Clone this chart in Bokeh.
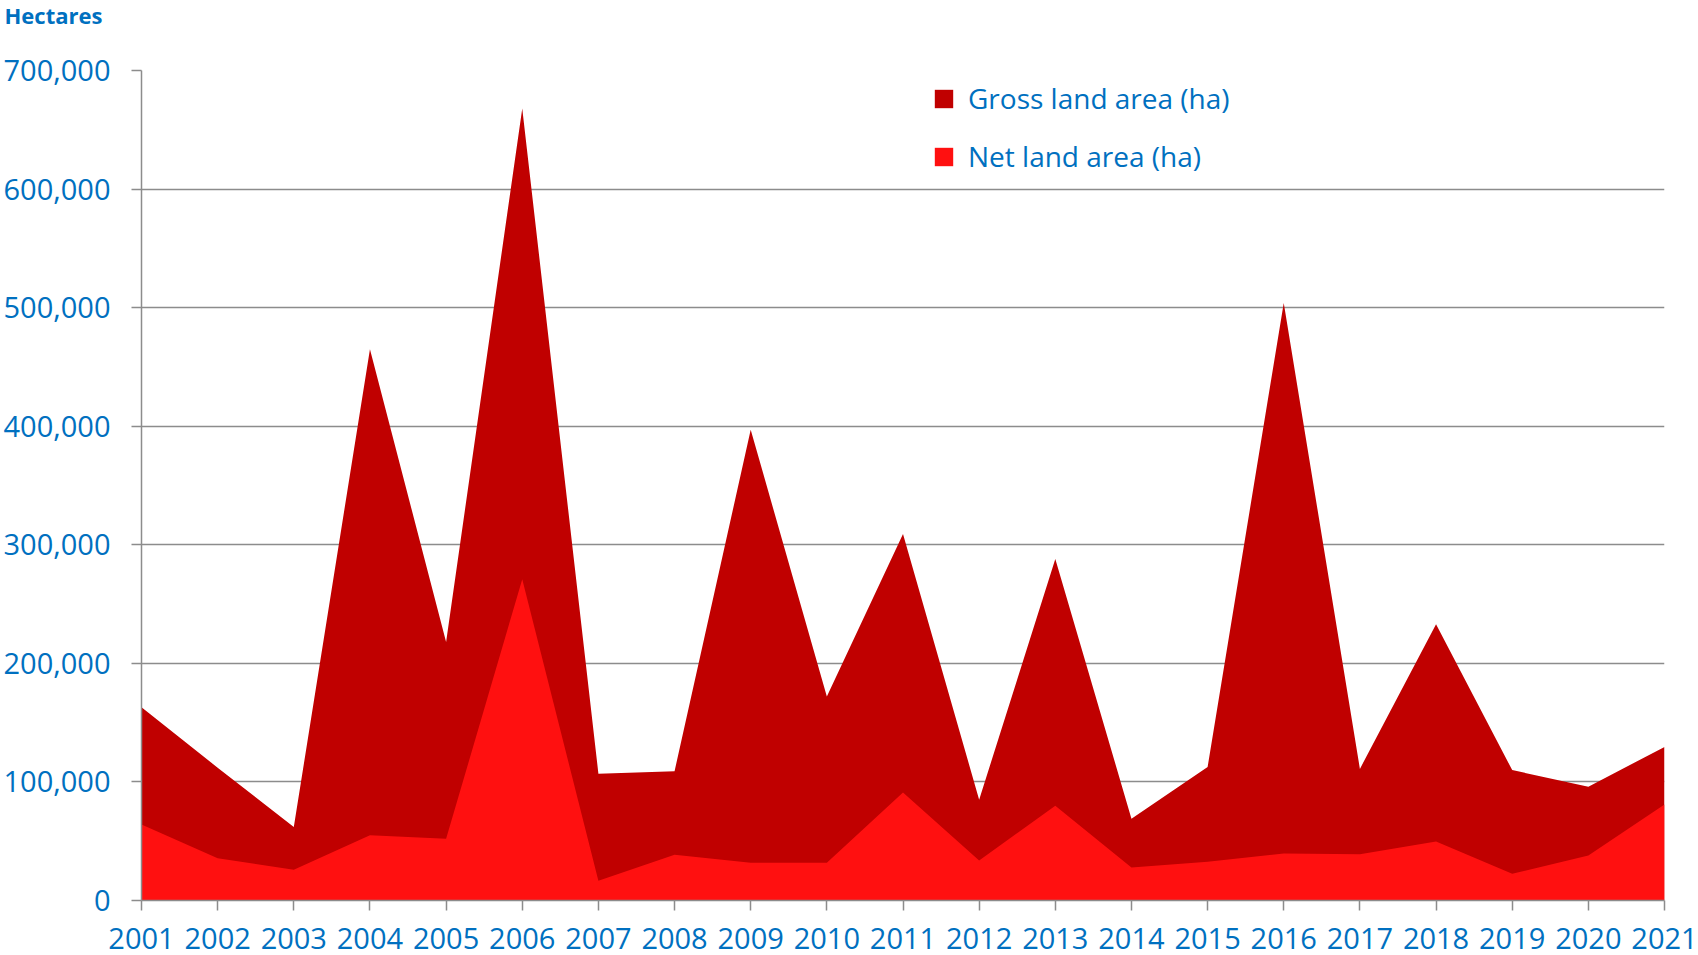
from bokeh.plotting import figure
from bokeh.models import FixedTicker, NumeralTickFormatter, Range1d, Legend, LegendItem, Title
from bokeh.embed import file_html
from bokeh.resources import INLINE

years = list(range(2001, 2022))
gross = [163000, 112000, 62000, 465000, 218000, 668000, 107000, 109000, 397000, 172000,
         309000, 85000, 288000, 69000, 112500, 504000, 111000, 233000, 110000, 96000, 129500]
net = [64000, 35700, 26000, 55000, 52000, 271000, 16600, 38600, 31800, 31800,
       91000, 33800, 80000, 27800, 32700, 39700, 39000, 49800, 22500, 38000, 81000]
y_ticks = [0, 100000, 200000, 300000, 400000, 500000, 600000, 700000]

BLUE = "#0070C0"
GRID = "#8C8C8C"
FONT = "Open Sans"

W, H = 1698, 955
BL, BR, BT, BB = 138, 34, 70, 55
p = figure(width=W, height=H, output_backend="svg", toolbar_location=None,
           x_range=Range1d(2001, 2021), y_range=Range1d(0, 700000),
           min_border_left=BL, min_border_right=BR, min_border_top=BT, min_border_bottom=BB)
p.outline_line_color = None
p.background_fill_color = "white"
p.border_fill_color = "white"

# spacer panel between the frame and the "Hectares" heading
spacer = Title(text=" ", text_font=FONT, text_font_size="22px", standoff=11,
               text_color="white", align="left")
heading = Title(text="Hectares", align="left", vertical_align="middle", offset=-137,
                text_font=FONT, text_font_size="22px", text_font_style="bold",
                text_color=BLUE, standoff=-6)
p.add_layout(spacer, "above")
p.add_layout(heading, "above")

r_gross = p.varea(x=years, y1=[0] * len(years), y2=gross, fill_color="#C00000")
r_net = p.varea(x=years, y1=[0] * len(years), y2=net, fill_color="#FF1010")

p.xgrid.visible = False
p.ygrid.grid_line_color = GRID
p.ygrid.grid_line_width = 1.5
p.ygrid.ticker = FixedTicker(ticks=y_ticks)

for ax in (p.xaxis[0], p.yaxis[0]):
    ax.axis_line_color = GRID
    ax.axis_line_width = 1.5
    ax.major_tick_line_color = GRID
    ax.major_tick_line_width = 1.5
    ax.major_tick_in = 0
    ax.major_tick_out = 10
    ax.minor_tick_line_color = None
    ax.major_label_text_color = BLUE
    ax.major_label_text_font = FONT
    ax.major_label_text_font_size = "29px"

p.xaxis[0].ticker = FixedTicker(ticks=years)
p.xaxis[0].major_label_standoff = 17
p.yaxis[0].ticker = FixedTicker(ticks=y_ticks)
p.yaxis[0].formatter = NumeralTickFormatter(format="0,0")
p.yaxis[0].major_label_standoff = 21

legend = Legend(items=[LegendItem(label="Gross land area (ha)", renderers=[r_gross]),
                       LegendItem(label="Net land area (ha)", renderers=[r_net])],
                location=(791, 725), orientation="vertical",
                glyph_width=23, glyph_height=23, label_standoff=13,
                label_text_font=FONT, label_text_font_size="28px", label_text_color=BLUE,
                label_height=30, spacing=20, padding=0, margin=0,
                border_line_color=None, background_fill_alpha=0)
p.add_layout(legend, "center")

open("out.html", "w").write(file_html(p, INLINE))
